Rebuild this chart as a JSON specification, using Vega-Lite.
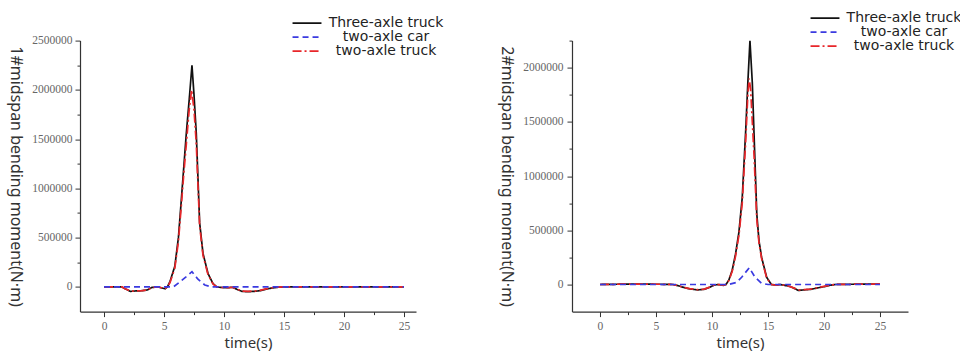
{
  "$schema": "https://vega.github.io/schema/vega-lite/v6.json",
  "background": "white",
  "padding": {"left": 7, "top": 10.6, "right": 0, "bottom": 0},
  "bounds": "flush",
  "spacing": 156,
  "config": {
    "view": {"stroke": null},
    "axis": {
      "grid": false,
      "domainColor": "#333333",
      "domainWidth": 1.2,
      "tickColor": "#333333",
      "tickWidth": 1,
      "labelFont": "Liberation Serif",
      "labelFontSize": 11.5,
      "labelColor": "#666666",
      "labelOverlap": false,
      "titleFont": "Noto Sans",
      "titleFontSize": 15,
      "titleFontWeight": "normal",
      "titleColor": "#333333"
    },
    "legend": {
      "orient": "none",
      "title": null,
      "symbolType": "M-3,0H3",
      "symbolSize": 93,
      "symbolStrokeWidth": 1.8,
      "labelFont": "DejaVu Sans",
      "labelFontSize": 14,
      "labelColor": "#222222",
      "labelAlign": "center",
      "labelOffset": 72,
      "rowPadding": 0
    }
  },
  "datasets": {
    "span1": [
      {"vehicle": "Three-axle truck", "time": 0, "moment": 0},
      {"vehicle": "Three-axle truck", "time": 1, "moment": 0},
      {"vehicle": "Three-axle truck", "time": 1.5, "moment": 0},
      {"vehicle": "Three-axle truck", "time": 1.8, "moment": -20000},
      {"vehicle": "Three-axle truck", "time": 2.2, "moment": -45000},
      {"vehicle": "Three-axle truck", "time": 2.7, "moment": -40000},
      {"vehicle": "Three-axle truck", "time": 3.2, "moment": -38000},
      {"vehicle": "Three-axle truck", "time": 3.6, "moment": -30000},
      {"vehicle": "Three-axle truck", "time": 4, "moment": -5000},
      {"vehicle": "Three-axle truck", "time": 4.5, "moment": 0},
      {"vehicle": "Three-axle truck", "time": 4.8, "moment": -10000},
      {"vehicle": "Three-axle truck", "time": 5.1, "moment": -18000},
      {"vehicle": "Three-axle truck", "time": 5.3, "moment": 5000},
      {"vehicle": "Three-axle truck", "time": 5.5, "moment": 55000},
      {"vehicle": "Three-axle truck", "time": 5.9, "moment": 210000},
      {"vehicle": "Three-axle truck", "time": 6.2, "moment": 500000},
      {"vehicle": "Three-axle truck", "time": 6.44, "moment": 880000},
      {"vehicle": "Three-axle truck", "time": 6.65, "moment": 1220000},
      {"vehicle": "Three-axle truck", "time": 6.86, "moment": 1560000},
      {"vehicle": "Three-axle truck", "time": 7.1, "moment": 1900000},
      {"vehicle": "Three-axle truck", "time": 7.33, "moment": 2250000},
      {"vehicle": "Three-axle truck", "time": 7.5, "moment": 1950000},
      {"vehicle": "Three-axle truck", "time": 7.69, "moment": 1560000},
      {"vehicle": "Three-axle truck", "time": 7.97, "moment": 650000},
      {"vehicle": "Three-axle truck", "time": 8.25, "moment": 340000},
      {"vehicle": "Three-axle truck", "time": 8.67, "moment": 135000},
      {"vehicle": "Three-axle truck", "time": 9.08, "moment": 35000},
      {"vehicle": "Three-axle truck", "time": 9.4, "moment": 0},
      {"vehicle": "Three-axle truck", "time": 9.8, "moment": -5000},
      {"vehicle": "Three-axle truck", "time": 10.3, "moment": -8000},
      {"vehicle": "Three-axle truck", "time": 10.7, "moment": -3000},
      {"vehicle": "Three-axle truck", "time": 11.1, "moment": -25000},
      {"vehicle": "Three-axle truck", "time": 11.5, "moment": -45000},
      {"vehicle": "Three-axle truck", "time": 12, "moment": -48000},
      {"vehicle": "Three-axle truck", "time": 12.5, "moment": -45000},
      {"vehicle": "Three-axle truck", "time": 13, "moment": -38000},
      {"vehicle": "Three-axle truck", "time": 13.5, "moment": -22000},
      {"vehicle": "Three-axle truck", "time": 14, "moment": -10000},
      {"vehicle": "Three-axle truck", "time": 14.5, "moment": -3000},
      {"vehicle": "Three-axle truck", "time": 15, "moment": 0},
      {"vehicle": "Three-axle truck", "time": 20, "moment": 0},
      {"vehicle": "Three-axle truck", "time": 25, "moment": 0},

      {"vehicle": "two-axle truck", "time": 0, "moment": 0},
      {"vehicle": "two-axle truck", "time": 1, "moment": 0},
      {"vehicle": "two-axle truck", "time": 1.5, "moment": 0},
      {"vehicle": "two-axle truck", "time": 1.8, "moment": -20000},
      {"vehicle": "two-axle truck", "time": 2.2, "moment": -43000},
      {"vehicle": "two-axle truck", "time": 2.7, "moment": -40000},
      {"vehicle": "two-axle truck", "time": 3.2, "moment": -38000},
      {"vehicle": "two-axle truck", "time": 3.6, "moment": -30000},
      {"vehicle": "two-axle truck", "time": 4, "moment": -5000},
      {"vehicle": "two-axle truck", "time": 4.5, "moment": 0},
      {"vehicle": "two-axle truck", "time": 4.8, "moment": -8000},
      {"vehicle": "two-axle truck", "time": 5.1, "moment": -15000},
      {"vehicle": "two-axle truck", "time": 5.3, "moment": 3000},
      {"vehicle": "two-axle truck", "time": 5.5, "moment": 45000},
      {"vehicle": "two-axle truck", "time": 5.9, "moment": 190000},
      {"vehicle": "two-axle truck", "time": 6.2, "moment": 460000},
      {"vehicle": "two-axle truck", "time": 6.44, "moment": 820000},
      {"vehicle": "two-axle truck", "time": 6.65, "moment": 1150000},
      {"vehicle": "two-axle truck", "time": 6.86, "moment": 1450000},
      {"vehicle": "two-axle truck", "time": 7.1, "moment": 1800000},
      {"vehicle": "two-axle truck", "time": 7.3, "moment": 2000000},
      {"vehicle": "two-axle truck", "time": 7.5, "moment": 1800000},
      {"vehicle": "two-axle truck", "time": 7.69, "moment": 1450000},
      {"vehicle": "two-axle truck", "time": 7.97, "moment": 620000},
      {"vehicle": "two-axle truck", "time": 8.25, "moment": 320000},
      {"vehicle": "two-axle truck", "time": 8.67, "moment": 125000},
      {"vehicle": "two-axle truck", "time": 9.08, "moment": 30000},
      {"vehicle": "two-axle truck", "time": 9.4, "moment": 0},
      {"vehicle": "two-axle truck", "time": 9.8, "moment": -5000},
      {"vehicle": "two-axle truck", "time": 10.3, "moment": -8000},
      {"vehicle": "two-axle truck", "time": 10.7, "moment": -3000},
      {"vehicle": "two-axle truck", "time": 11.1, "moment": -22000},
      {"vehicle": "two-axle truck", "time": 11.5, "moment": -42000},
      {"vehicle": "two-axle truck", "time": 12, "moment": -45000},
      {"vehicle": "two-axle truck", "time": 12.5, "moment": -42000},
      {"vehicle": "two-axle truck", "time": 13, "moment": -35000},
      {"vehicle": "two-axle truck", "time": 13.5, "moment": -20000},
      {"vehicle": "two-axle truck", "time": 14, "moment": -8000},
      {"vehicle": "two-axle truck", "time": 14.5, "moment": -2000},
      {"vehicle": "two-axle truck", "time": 15, "moment": 0},
      {"vehicle": "two-axle truck", "time": 20, "moment": 0},
      {"vehicle": "two-axle truck", "time": 25, "moment": 0},

      {"vehicle": "two-axle car", "time": 0, "moment": 0},
      {"vehicle": "two-axle car", "time": 2, "moment": 0},
      {"vehicle": "two-axle car", "time": 4, "moment": 0},
      {"vehicle": "two-axle car", "time": 5, "moment": 0},
      {"vehicle": "two-axle car", "time": 5.8, "moment": 2000},
      {"vehicle": "two-axle car", "time": 6.3, "moment": 50000},
      {"vehicle": "two-axle car", "time": 6.86, "moment": 105000},
      {"vehicle": "two-axle car", "time": 7.33, "moment": 155000},
      {"vehicle": "two-axle car", "time": 7.83, "moment": 78000},
      {"vehicle": "two-axle car", "time": 8.4, "moment": 20000},
      {"vehicle": "two-axle car", "time": 9, "moment": 0},
      {"vehicle": "two-axle car", "time": 12, "moment": 0},
      {"vehicle": "two-axle car", "time": 15, "moment": 0},
      {"vehicle": "two-axle car", "time": 20, "moment": 0},
      {"vehicle": "two-axle car", "time": 25, "moment": 0}
    ],
    "span2": [
      {"vehicle": "Three-axle truck", "time": 0, "moment": 0},
      {"vehicle": "Three-axle truck", "time": 2, "moment": 3000},
      {"vehicle": "Three-axle truck", "time": 4, "moment": 3000},
      {"vehicle": "Three-axle truck", "time": 5.5, "moment": 2000},
      {"vehicle": "Three-axle truck", "time": 6.5, "moment": 0},
      {"vehicle": "Three-axle truck", "time": 7, "moment": -12000},
      {"vehicle": "Three-axle truck", "time": 7.5, "moment": -28000},
      {"vehicle": "Three-axle truck", "time": 8, "moment": -40000},
      {"vehicle": "Three-axle truck", "time": 8.7, "moment": -50000},
      {"vehicle": "Three-axle truck", "time": 9.3, "moment": -45000},
      {"vehicle": "Three-axle truck", "time": 9.8, "moment": -25000},
      {"vehicle": "Three-axle truck", "time": 10.2, "moment": -5000},
      {"vehicle": "Three-axle truck", "time": 10.6, "moment": 0},
      {"vehicle": "Three-axle truck", "time": 11, "moment": -8000},
      {"vehicle": "Three-axle truck", "time": 11.25, "moment": 0},
      {"vehicle": "Three-axle truck", "time": 11.5, "moment": 40000},
      {"vehicle": "Three-axle truck", "time": 11.8, "moment": 130000},
      {"vehicle": "Three-axle truck", "time": 12.1, "moment": 280000},
      {"vehicle": "Three-axle truck", "time": 12.4, "moment": 480000},
      {"vehicle": "Three-axle truck", "time": 12.7, "moment": 800000},
      {"vehicle": "Three-axle truck", "time": 13, "moment": 1400000},
      {"vehicle": "Three-axle truck", "time": 13.2, "moment": 1860000},
      {"vehicle": "Three-axle truck", "time": 13.39, "moment": 2250000},
      {"vehicle": "Three-axle truck", "time": 13.6, "moment": 1860000},
      {"vehicle": "Three-axle truck", "time": 13.75, "moment": 1400000},
      {"vehicle": "Three-axle truck", "time": 14, "moment": 650000},
      {"vehicle": "Three-axle truck", "time": 14.2, "moment": 400000},
      {"vehicle": "Three-axle truck", "time": 14.43, "moment": 250000},
      {"vehicle": "Three-axle truck", "time": 14.88, "moment": 67000},
      {"vehicle": "Three-axle truck", "time": 15.3, "moment": 0},
      {"vehicle": "Three-axle truck", "time": 15.7, "moment": -5000},
      {"vehicle": "Three-axle truck", "time": 16.1, "moment": 0},
      {"vehicle": "Three-axle truck", "time": 16.6, "moment": -10000},
      {"vehicle": "Three-axle truck", "time": 17, "moment": -20000},
      {"vehicle": "Three-axle truck", "time": 17.4, "moment": -38000},
      {"vehicle": "Three-axle truck", "time": 17.7, "moment": -55000},
      {"vehicle": "Three-axle truck", "time": 18.2, "moment": -50000},
      {"vehicle": "Three-axle truck", "time": 18.8, "moment": -45000},
      {"vehicle": "Three-axle truck", "time": 19.5, "moment": -30000},
      {"vehicle": "Three-axle truck", "time": 20, "moment": -20000},
      {"vehicle": "Three-axle truck", "time": 20.5, "moment": -8000},
      {"vehicle": "Three-axle truck", "time": 21, "moment": 0},
      {"vehicle": "Three-axle truck", "time": 23, "moment": 3000},
      {"vehicle": "Three-axle truck", "time": 25, "moment": 5000},

      {"vehicle": "two-axle truck", "time": 0, "moment": 0},
      {"vehicle": "two-axle truck", "time": 2, "moment": 3000},
      {"vehicle": "two-axle truck", "time": 4, "moment": 3000},
      {"vehicle": "two-axle truck", "time": 5.5, "moment": 2000},
      {"vehicle": "two-axle truck", "time": 6.5, "moment": 0},
      {"vehicle": "two-axle truck", "time": 7, "moment": -12000},
      {"vehicle": "two-axle truck", "time": 7.5, "moment": -27000},
      {"vehicle": "two-axle truck", "time": 8, "moment": -38000},
      {"vehicle": "two-axle truck", "time": 8.7, "moment": -48000},
      {"vehicle": "two-axle truck", "time": 9.3, "moment": -43000},
      {"vehicle": "two-axle truck", "time": 9.8, "moment": -24000},
      {"vehicle": "two-axle truck", "time": 10.2, "moment": -5000},
      {"vehicle": "two-axle truck", "time": 10.6, "moment": 0},
      {"vehicle": "two-axle truck", "time": 11, "moment": -7000},
      {"vehicle": "two-axle truck", "time": 11.25, "moment": 0},
      {"vehicle": "two-axle truck", "time": 11.5, "moment": 35000},
      {"vehicle": "two-axle truck", "time": 11.8, "moment": 120000},
      {"vehicle": "two-axle truck", "time": 12.1, "moment": 260000},
      {"vehicle": "two-axle truck", "time": 12.4, "moment": 450000},
      {"vehicle": "two-axle truck", "time": 12.7, "moment": 750000},
      {"vehicle": "two-axle truck", "time": 13, "moment": 1300000},
      {"vehicle": "two-axle truck", "time": 13.2, "moment": 1750000},
      {"vehicle": "two-axle truck", "time": 13.32, "moment": 1900000},
      {"vehicle": "two-axle truck", "time": 13.45, "moment": 1800000},
      {"vehicle": "two-axle truck", "time": 13.6, "moment": 1500000},
      {"vehicle": "two-axle truck", "time": 13.75, "moment": 1200000},
      {"vehicle": "two-axle truck", "time": 14, "moment": 600000},
      {"vehicle": "two-axle truck", "time": 14.2, "moment": 380000},
      {"vehicle": "two-axle truck", "time": 14.43, "moment": 240000},
      {"vehicle": "two-axle truck", "time": 14.88, "moment": 60000},
      {"vehicle": "two-axle truck", "time": 15.3, "moment": 0},
      {"vehicle": "two-axle truck", "time": 15.7, "moment": -5000},
      {"vehicle": "two-axle truck", "time": 16.1, "moment": 0},
      {"vehicle": "two-axle truck", "time": 16.6, "moment": -10000},
      {"vehicle": "two-axle truck", "time": 17, "moment": -20000},
      {"vehicle": "two-axle truck", "time": 17.4, "moment": -36000},
      {"vehicle": "two-axle truck", "time": 17.7, "moment": -52000},
      {"vehicle": "two-axle truck", "time": 18.2, "moment": -48000},
      {"vehicle": "two-axle truck", "time": 18.8, "moment": -43000},
      {"vehicle": "two-axle truck", "time": 19.5, "moment": -28000},
      {"vehicle": "two-axle truck", "time": 20, "moment": -18000},
      {"vehicle": "two-axle truck", "time": 20.5, "moment": -7000},
      {"vehicle": "two-axle truck", "time": 21, "moment": 0},
      {"vehicle": "two-axle truck", "time": 23, "moment": 3000},
      {"vehicle": "two-axle truck", "time": 25, "moment": 5000},

      {"vehicle": "two-axle car", "time": 0, "moment": 0},
      {"vehicle": "two-axle car", "time": 5, "moment": 0},
      {"vehicle": "two-axle car", "time": 10, "moment": 0},
      {"vehicle": "two-axle car", "time": 11.5, "moment": 0},
      {"vehicle": "two-axle car", "time": 12.2, "moment": 20000},
      {"vehicle": "two-axle car", "time": 12.65, "moment": 67000},
      {"vehicle": "two-axle car", "time": 13.33, "moment": 155000},
      {"vehicle": "two-axle car", "time": 13.84, "moment": 67000},
      {"vehicle": "two-axle car", "time": 14.43, "moment": 11000},
      {"vehicle": "two-axle car", "time": 15, "moment": 0},
      {"vehicle": "two-axle car", "time": 20, "moment": 0},
      {"vehicle": "two-axle car", "time": 25, "moment": 0}
    ]
  },
  "hconcat": [
    {
      "width": 336,
      "height": 271,
      "data": {"name": "span1"},
      "mark": {"type": "line", "strokeWidth": 1.7, "clip": true},
      "encoding": {
        "x": {
          "field": "time",
          "type": "quantitative",
          "title": "time(s)",
          "scale": {"domain": [-2, 26], "nice": false, "zero": false},
          "axis": {
            "values": [0, 2.5, 5, 7.5, 10, 12.5, 15, 17.5, 20, 22.5, 25],
            "labelExpr": "datum.value % 5 === 0 ? datum.label : ''",
            "tickSize": {"condition": {"test": "datum.value % 5 === 0", "value": 5}, "value": 3},
            "labelPadding": 4,
            "titlePadding": 3
          }
        },
        "y": {
          "field": "moment",
          "type": "quantitative",
          "title": "1#midspan bending moment(N·m)",
          "scale": {"domain": [-250000, 2500000], "nice": false, "zero": false},
          "axis": {
            "values": [0, 250000, 500000, 750000, 1000000, 1250000, 1500000, 1750000, 2000000, 2250000, 2500000],
            "format": "d",
            "labelExpr": "datum.value % 500000 === 0 ? datum.label : ''",
            "tickSize": {"condition": {"test": "datum.value % 500000 === 0", "value": 5}, "value": 3},
            "labelPadding": 3,
            "titleAngle": 90,
            "titleBaseline": "top",
            "titleFontSize": 16,
            "titlePadding": 8
          }
        },
        "color": {
          "field": "vehicle",
          "type": "nominal",
          "scale": {
            "domain": ["Three-axle truck", "two-axle car", "two-axle truck"],
            "range": ["#111111", "#3a3ae0", "#e8262a"]
          },
          "legend": {"legendX": 220, "legendY": -24.4}
        },
        "strokeDash": {
          "field": "vehicle",
          "type": "nominal",
          "scale": {
            "domain": ["Three-axle truck", "two-axle car", "two-axle truck"],
            "range": [[1, 0], [6, 4], [9, 3, 2, 3]]
          },
          "legend": {"legendX": 220, "legendY": -24.4}
        }
      }
    },
    {
      "width": 336,
      "height": 271,
      "data": {"name": "span2"},
      "mark": {"type": "line", "strokeWidth": 1.7, "clip": true},
      "encoding": {
        "x": {
          "field": "time",
          "type": "quantitative",
          "title": "time(s)",
          "scale": {"domain": [-2.5, 27.5], "nice": false, "zero": false},
          "axis": {
            "values": [0, 2.5, 5, 7.5, 10, 12.5, 15, 17.5, 20, 22.5, 25],
            "labelExpr": "datum.value % 5 === 0 ? datum.label : ''",
            "tickSize": {"condition": {"test": "datum.value % 5 === 0", "value": 5}, "value": 3},
            "labelPadding": 4,
            "titlePadding": 3
          }
        },
        "y": {
          "field": "moment",
          "type": "quantitative",
          "title": "2#midspan bending moment(N·m)",
          "scale": {"domain": [-250000, 2250000], "nice": false, "zero": false},
          "axis": {
            "values": [0, 250000, 500000, 750000, 1000000, 1250000, 1500000, 1750000, 2000000, 2250000],
            "format": "d",
            "labelExpr": "datum.value % 500000 === 0 ? datum.label : ''",
            "tickSize": {"condition": {"test": "datum.value % 500000 === 0", "value": 5}, "value": 3},
            "labelPadding": 4,
            "titleAngle": 90,
            "titleBaseline": "top",
            "titleFontSize": 16,
            "titlePadding": 8
          }
        },
        "color": {
          "field": "vehicle",
          "type": "nominal",
          "scale": {
            "domain": ["Three-axle truck", "two-axle car", "two-axle truck"],
            "range": ["#111111", "#3a3ae0", "#e8262a"]
          },
          "legend": {"legendX": 246, "legendY": -29.4}
        },
        "strokeDash": {
          "field": "vehicle",
          "type": "nominal",
          "scale": {
            "domain": ["Three-axle truck", "two-axle car", "two-axle truck"],
            "range": [[1, 0], [6, 4], [9, 3, 2, 3]]
          },
          "legend": {"legendX": 246, "legendY": -29.4}
        }
      }
    }
  ],
  "resolve": {
    "scale": {"color": "independent", "strokeDash": "independent", "x": "independent", "y": "independent"},
    "legend": {"color": "independent", "strokeDash": "independent"}
  }
}
